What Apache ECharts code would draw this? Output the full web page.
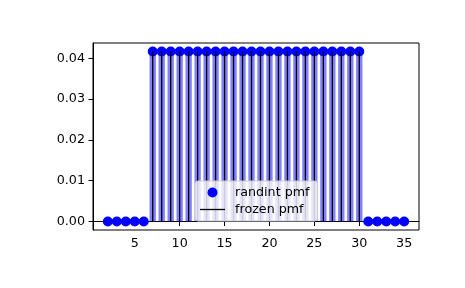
<!DOCTYPE html>
<html>
<head>
<meta charset="utf-8">
<script src="https://cdn.jsdelivr.net/npm/echarts@6/dist/echarts.min.js"></script>
<style>
  html, body { margin: 0; padding: 0; background: #fff; }
  #chart { width: 465px; height: 288px; }
</style>
</head>
<body>
<div id="chart"></div>
<script>
// x values and pmf
var xs = [2, 3, 4, 5, 6, 7, 8, 9, 10, 11, 12, 13, 14, 15, 16, 17, 18, 19, 20,
  21, 22, 23, 24, 25, 26, 27, 28, 29, 30, 31, 32, 33, 34, 35];
var pmf = [0, 0, 0, 0, 0,
  0.041667, 0.041667, 0.041667, 0.041667, 0.041667, 0.041667, 0.041667, 0.041667,
  0.041667, 0.041667, 0.041667, 0.041667, 0.041667, 0.041667, 0.041667, 0.041667,
  0.041667, 0.041667, 0.041667, 0.041667, 0.041667, 0.041667, 0.041667, 0.041667,
  0, 0, 0, 0, 0];
var frozenPmf = [0, 0, 0, 0, 0,
  0.041667, 0.041667, 0.041667, 0.041667, 0.041667, 0.041667, 0.041667, 0.041667,
  0.041667, 0.041667, 0.041667, 0.041667, 0.041667, 0.041667, 0.041667, 0.041667,
  0.041667, 0.041667, 0.041667, 0.041667, 0.041667, 0.041667, 0.041667, 0.041667,
  0, 0, 0, 0, 0];
var xTicks = [5, 10, 15, 20, 25, 30, 35];
var yTicks = [0, 0.01, 0.02, 0.03, 0.04];

var font = 'DejaVu Sans';

var pairs = function (a, b) {
  var out = [];
  for (var i = 0; i < a.length; i++) out.push([a[i], b[i]]);
  return out;
};

// vertical line from 0 up to the value, like ax.vlines
var vline = function (width, color, opacity) {
  return function (params, api) {
    var p0 = api.coord([api.value(0), 0]);
    var p1 = api.coord([api.value(0), api.value(1)]);
    return {
      type: 'line',
      shape: { x1: p0[0], y1: p0[1], x2: p1[0], y2: p1[1] },
      style: { stroke: color, lineWidth: width, opacity: opacity, lineCap: 'butt' }
    };
  };
};

var opt = {
  animation: false,
  grid: {
    left: 93, top: 43, right: 46, bottom: 58,
    show: true, borderColor: '#000', borderWidth: 1
  },
  legend: {
    orient: 'vertical',
    left: 195, top: 181,
    z: 10,
    padding: [5, 8, 5, 5],
    itemGap: 4,
    itemWidth: 25,
    itemHeight: 10,
    backgroundColor: 'rgba(255,255,255,0.8)',
    borderColor: '#cccccc',
    borderWidth: 1,
    borderRadius: 3,
    textStyle: { color: '#000', fontSize: 12.7, fontFamily: font, padding: [0, 0, 0, 5] },
    data: [
      { name: 'randint pmf', icon: 'circle' },
      // thin bar keeps its aspect inside the 25x10 box, so it reads as a line
      { name: 'frozen pmf', icon: 'path://M0,0L25,0L25,1.3L0,1.3Z', itemStyle: { color: '#000' } }
    ]
  },
  xAxis: {
    type: 'value',
    min: 0.35, max: 36.65,
    axisLine: { show: true, lineStyle: { color: '#000', width: 1 } },
    axisTick: { show: true, length: 4.5, customValues: xTicks, lineStyle: { color: '#000' } },
    axisLabel: { customValues: xTicks, margin: 7, color: '#000', fontSize: 12.7, fontFamily: font },
    splitLine: { show: false }
  },
  yAxis: {
    type: 'value',
    min: -0.00208, max: 0.04375,
    axisLine: { show: true, lineStyle: { color: '#000', width: 1 } },
    axisTick: { show: true, length: 4.5, customValues: yTicks, lineStyle: { color: '#000' } },
    axisLabel: {
      customValues: yTicks, margin: 8, color: '#000', fontSize: 12.7, fontFamily: font,
      formatter: function (v) { return v.toFixed(2); }
    },
    splitLine: { show: false }
  },
  series: [
    {
      name: 'randint pmf',
      type: 'scatter',
      symbol: 'circle',
      symbolSize: 10,
      itemStyle: { color: '#0000ff', opacity: 1 },
      data: pairs(xs, pmf),
      z: 2
    },
    {
      type: 'custom',
      renderItem: vline(6.3, '#0000ff', 0.5),
      data: pairs(xs, pmf),
      z: 3
    },
    {
      name: 'frozen pmf',
      type: 'custom',
      renderItem: vline(1.3, '#000', 1),
      itemStyle: { color: '#000' },
      data: pairs(xs, frozenPmf),
      z: 4
    }
  ]
};

var chart = echarts.init(document.getElementById('chart'));
chart.setOption(opt);
</script>
</body>
</html>
